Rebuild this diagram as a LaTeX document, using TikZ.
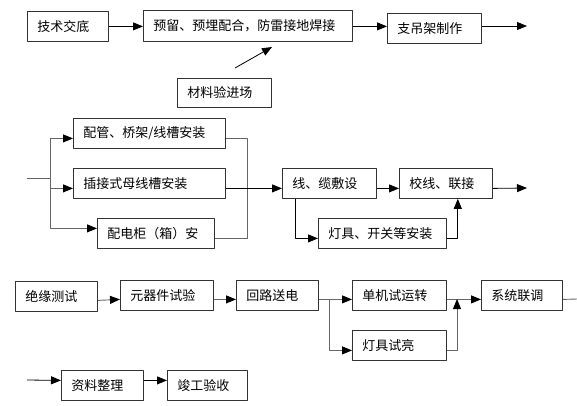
\documentclass[tikz,border=0pt]{standalone}
\usepackage{fontspec}
\setmainfont{Noto Sans CJK SC}
\usetikzlibrary{arrows.meta}

\begin{document}
\begin{tikzpicture}[x=1pt,y=-1pt,>={Triangle[length=10pt,width=8pt,color=black]},
    font=\fontsize{13pt}{15pt}\selectfont, line join=round,
    box/.style={draw=black!80,line width=0.8pt,anchor=north west,minimum height=30pt,
      inner xsep=10pt,inner ysep=0pt,align=left,text width=#1},
    lnk/.style={line width=0.8pt},
    glnk/.style={draw=black!60,line width=0.9pt}]
  \useasboundingbox (0,0) rectangle (577,405);
  % first row
  \node[box=61pt] (jd) at (27,11) {技术交底};
  \node[box=189pt,minimum height=31pt] (yl) at (143,10) {预留、预埋配合，防雷接地焊接};
  \node[box=74pt] (zdj) at (387,13) {支吊架制作};
  \node[box=74pt,minimum height=29pt] (cl) at (177,78) {材料验进场};
  \coordinate (t1) at (527,26);
  \coordinate (c1) at (235,68);
  \coordinate (c2) at (272,47);
  \draw[lnk,->] (jd.east) -- (yl.west |- jd.east);
  \draw[lnk,->] (yl.east |- jd.east) -- (zdj.west |- jd.east);
  \draw[lnk,->] (zdj.east |- t1) -- (t1);
  \draw[lnk,->] (c1) -- (c2);
  % second row
  \node[box=132pt] (pg) at (73,118) {配管、桥架/线槽安装};
  \node[box=132pt] (cj) at (73,168) {插接式母线槽安装};
  \node[box=97pt] (pd) at (97,218) {配电柜（箱）安};
  \node[box=74pt] (xl) at (282,168) {线、缆敷设};
  \node[box=73pt] (jx) at (399,168) {校线、联接};
  \node[box=108pt] (dj) at (318,218) {灯具、开关等安装};
  \coordinate (m0) at (27,178);
  \coordinate (ms) at (50,178);
  \coordinate (mx) at (247,188);
  \coordinate (t2) at (527,188);
  \draw[glnk] (m0) -- (ms);
  \draw[glnk,->] (ms) |- ([yshift=-5pt]pg.west);
  \draw[glnk,->] (ms) |- ([yshift=-5pt]cj.west);
  \draw[glnk,->] (ms) |- ([yshift=5pt]pd.west);
  \draw[glnk] ([yshift=-5pt]pg.east) -| (mx);
  \draw[glnk] ([yshift=-5pt]pd.east) -| (mx);
  \draw[lnk,->] ([yshift=-5pt]cj.east) -- ([yshift=-5pt]xl.west);
  \draw[lnk,->] ([yshift=-5pt]xl.east) -- ([yshift=-5pt]jx.west);
  \draw[lnk,->] ([yshift=-5pt]jx.east) -- (t2);
  \draw[lnk,->] ([xshift=13pt]xl.south west) |- ([yshift=-5pt]dj.west);
  \draw[lnk,->] ([yshift=-5pt]dj.east) -| ([xshift=-35pt]jx.south east);
  % third row
  \node[box=62pt] (jy) at (15,281) {绝缘测试};
  \node[box=73pt] (yq) at (120,280) {元器件试验};
  \node[box=62pt] (hl) at (236,280) {回路送电};
  \node[box=74pt] (dy) at (352,280) {单机试运转};
  \node[box=74pt] (ds) at (352,330) {灯具试亮};
  \node[box=61pt] (xt) at (481,280) {系统联调};
  \coordinate (bm) at (457,299);
  \coordinate (t3) at (577,299);
  \draw[glnk,->] ([yshift=-4pt]jy.east) -- ([yshift=-4pt]yq.west);
  \draw[glnk,->] ([yshift=-4pt]yq.east) -- ([yshift=-4pt]hl.west);
  \draw[glnk,->] ([yshift=-4pt]hl.east) -- ([yshift=-4pt]dy.west);
  \draw[glnk,->] ([xshift=11pt,yshift=-4pt]hl.east) |- ([yshift=-5pt]ds.west);
  \draw[glnk,->] ([yshift=-4pt]dy.east) -- ([yshift=-4pt]xt.west);
  \draw[glnk,->] ([yshift=-5pt]ds.east) -| (bm);
  \draw[glnk] ([yshift=-4pt]xt.east) -- (t3);
  % last row
  \node[box=62pt] (zl) at (61,370) {资料整理};
  \node[box=60pt] (jg) at (167,370) {竣工验收};
  \coordinate (m4) at (27,380);
  \draw[lnk,->] (m4) -- ([yshift=5pt]zl.west);
  \draw[lnk,->] ([yshift=5pt]zl.east) -- ([yshift=5pt]jg.west);
\end{tikzpicture}
\end{document}
